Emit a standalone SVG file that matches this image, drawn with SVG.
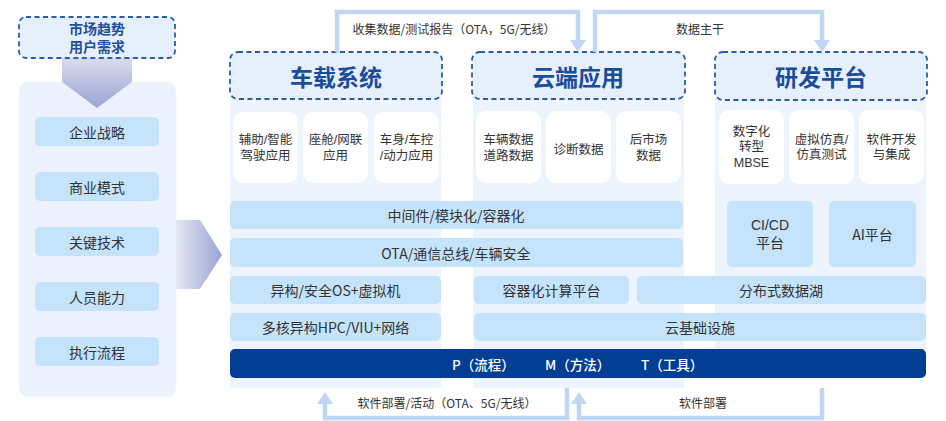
<svg xmlns="http://www.w3.org/2000/svg" width="946" height="421" viewBox="0 0 946 421" lang="zh-CN">
<style>
text{font-family:"Noto Sans CJK SC","Noto Sans",sans-serif;fill:#333;text-anchor:middle;dominant-baseline:central}
text.ml{font-family:"Liberation Sans","Noto Sans CJK SC",sans-serif}
.col{fill:#eef4fd}
.hdr{fill:#e6effc;stroke:#2a5caa;stroke-width:1.8;stroke-dasharray:5 3.5}
.ht{font-size:23px;font-weight:bold;fill:#1a4c9c}
.card{fill:#fff}
.ct{font-size:12.5px}
.bar{fill:#c5e3fb}
.bt{font-size:14px}
.li{fill:#c5e3fb}
.lt{font-size:14px}
.conn{fill:none;stroke:#bfd7f4;stroke-width:4.5;stroke-linejoin:miter}
.ah{fill:#bfd7f4}
.lab{font-size:12px}
.pmt{font-size:13.5px;fill:#fff;text-anchor:start;font-weight:500}
</style>
<defs>
<linearGradient id="gv" x1="0" y1="0" x2="0" y2="1"><stop offset="0" stop-color="#d9dcec"/><stop offset="1" stop-color="#9aa3d4"/></linearGradient>
<linearGradient id="gh" x1="0" y1="0" x2="1" y2="0"><stop offset="0" stop-color="#e6e8f3"/><stop offset="1" stop-color="#9aa3d4"/></linearGradient>
</defs>
<rect width="946" height="421" fill="#fff"/>

<g id="left-panel">
<rect x="19" y="82" width="157" height="315" rx="9" fill="#ebf2fd" stroke="#f3f7fe"/>
<g id="item-1"><rect class="li" x="35" y="117" width="124" height="29" rx="5"/><text class="lt" x="97" y="131.5">企业战略</text></g>
<g id="item-2"><rect class="li" x="35" y="172" width="124" height="29" rx="5"/><text class="lt" x="97" y="186.5">商业模式</text></g>
<g id="item-3"><rect class="li" x="35" y="227" width="124" height="29" rx="5"/><text class="lt" x="97" y="241.5">关键技术</text></g>
<g id="item-4"><rect class="li" x="35" y="282" width="124" height="29" rx="5"/><text class="lt" x="97" y="296.5">人员能力</text></g>
<g id="item-5"><rect class="li" x="35" y="337" width="124" height="29" rx="5"/><text class="lt" x="97" y="351.5">执行流程</text></g>
</g>
<g id="arrow-down"><polygon points="62,58 132,58 132,82 97,108 62,82" fill="url(#gv)"/></g>
<g id="trend">
<rect x="19" y="17" width="156" height="41" rx="7" fill="#e6effc" stroke="#2a5caa" stroke-width="1.8" stroke-dasharray="5 3.5"/>
<text class="ml" x="97" y="29" style="font-size:14px;font-weight:bold;fill:#1f4f9f">市场趋势</text>
<text class="ml" x="97" y="46.5" style="font-size:14px;font-weight:bold;fill:#1f4f9f">用户需求</text>
</g>
<g id="arrow-right"><polygon points="176,220 200,220 222,255 200,289 176,289" fill="url(#gh)"/></g>

<g id="columns">
<rect class="col" x="230" y="70" width="211" height="318"/>
<rect class="col" x="473" y="70" width="211" height="318"/>
<rect class="col" x="715" y="70" width="211" height="280"/>
</g>

<g id="vehicle">
<rect class="hdr" x="230" y="52" width="212" height="47" rx="8"/>
<text class="ht" x="336" y="76">车载系统</text>
<g id="v-card-1"><rect class="card" x="233" y="112" width="65" height="71" rx="10"/><text class="ct ml" x="265.5" y="140">辅助/智能</text><text class="ct ml" x="265.5" y="155.5">驾驶应用</text></g>
<g id="v-card-2"><rect class="card" x="303" y="112" width="65" height="71" rx="10"/><text class="ct ml" x="335.5" y="140">座舱/网联</text><text class="ct ml" x="335.5" y="155.5">应用</text></g>
<g id="v-card-3"><rect class="card" x="374" y="112" width="65" height="71" rx="10"/><text class="ct ml" x="406.5" y="140">车身/车控</text><text class="ct ml" x="406.5" y="155.5">/动力应用</text></g>
</g>

<g id="cloud">
<rect class="hdr" x="472" y="52" width="213" height="47" rx="8"/>
<text class="ht" x="578" y="76">云端应用</text>
<g id="c-card-1"><rect class="card" x="476" y="111" width="65" height="72" rx="10"/><text class="ct ml" x="508.5" y="140">车辆数据</text><text class="ct ml" x="508.5" y="155.5">道路数据</text></g>
<g id="c-card-2"><rect class="card" x="546" y="111" width="65" height="72" rx="10"/><text class="ct" x="578.5" y="148">诊断数据</text></g>
<g id="c-card-3"><rect class="card" x="616" y="111" width="65" height="72" rx="10"/><text class="ct ml" x="648.5" y="140">后市场</text><text class="ct ml" x="648.5" y="155.5">数据</text></g>
</g>

<g id="rd">
<rect class="hdr" x="715" y="52" width="212" height="48" rx="8"/>
<text class="ht" x="821" y="76">研发平台</text>
<g id="r-card-1"><rect class="card" x="719" y="110" width="65" height="74" rx="10"/><text class="ct ml" x="751.5" y="131.5">数字化</text><text class="ct ml" x="751.5" y="147">转型</text><text class="ct ml" x="751.5" y="162.5">MBSE</text></g>
<g id="r-card-2"><rect class="card" x="789" y="110" width="65" height="74" rx="10"/><text class="ct ml" x="821.5" y="139.5">虚拟仿真/</text><text class="ct ml" x="821.5" y="155">仿真测试</text></g>
<g id="r-card-3"><rect class="card" x="859" y="110" width="65" height="74" rx="10"/><text class="ct ml" x="891.5" y="139.5">软件开发</text><text class="ct ml" x="891.5" y="155">与集成</text></g>
<g id="cicd"><rect class="bar" x="727" y="201" width="86" height="66" rx="5"/><text class="bt ml" x="770" y="224.5">CI/CD</text><text class="bt ml" x="770" y="242.5">平台</text></g>
<g id="ai"><rect class="bar" x="829" y="201" width="87" height="66" rx="5"/><text class="bt" x="872.5" y="234">AI平台</text></g>
</g>

<g id="bars">
<g id="middleware"><rect class="bar" x="230" y="201" width="453" height="28" rx="5"/><text class="bt" x="456" y="215">中间件/模块化/容器化</text></g>
<g id="ota"><rect class="bar" x="230" y="238" width="453" height="29" rx="5"/><text class="bt" x="456" y="252.5">OTA/通信总线/车辆安全</text></g>
<g id="hetero"><rect class="bar" x="230" y="276" width="211" height="28" rx="5"/><text class="bt" x="335.5" y="290">异构/安全OS+虚拟机</text></g>
<g id="container"><rect class="bar" x="474" y="276" width="155" height="28" rx="5"/><text class="bt" x="551.5" y="290">容器化计算平台</text></g>
<g id="datalake"><rect class="bar" x="637" y="276" width="289" height="28" rx="5"/><text class="bt" x="781" y="290">分布式数据湖</text></g>
<g id="hpc"><rect class="bar" x="230" y="313" width="211" height="28" rx="5"/><text class="bt" x="335.5" y="327">多核异构HPC/VIU+网络</text></g>
<g id="infra"><rect class="bar" x="474" y="313" width="452" height="28" rx="5"/><text class="bt" x="700" y="327">云基础设施</text></g>
<g id="pmt"><rect x="230" y="349" width="696" height="29" rx="5" fill="#023e94"/>
<text class="pmt" x="452" y="363.5">P（流程）</text>
<text class="pmt" x="545" y="363.5">M（方法）</text>
<text class="pmt" x="641" y="363.5">T（工具）</text></g>
</g>

<g id="connectors">
<path class="conn" d="M337,52 V12 H578 V41"/>
<polygon class="ah" points="570,40 586,40 578,52"/>
<text class="lab" x="454" y="28">收集数据/测试报告（OTA，5G/无线）</text>
<path class="conn" d="M595,52 V12 H822 V41"/>
<polygon class="ah" points="814,40 830,40 822,52"/>
<text class="lab" x="700" y="28">数据主干</text>
<path class="conn" d="M567,388 V418 H325 V403"/>
<polygon class="ah" points="317,404 333,404 325,392"/>
<text class="lab" x="447" y="402">软件部署/活动（OTA、5G/无线）</text>
<path class="conn" d="M822,388 V418 H579 V403"/>
<polygon class="ah" points="571,404 587,404 579,392"/>
<text class="lab" x="703" y="402">软件部署</text>
</g>
</svg>
